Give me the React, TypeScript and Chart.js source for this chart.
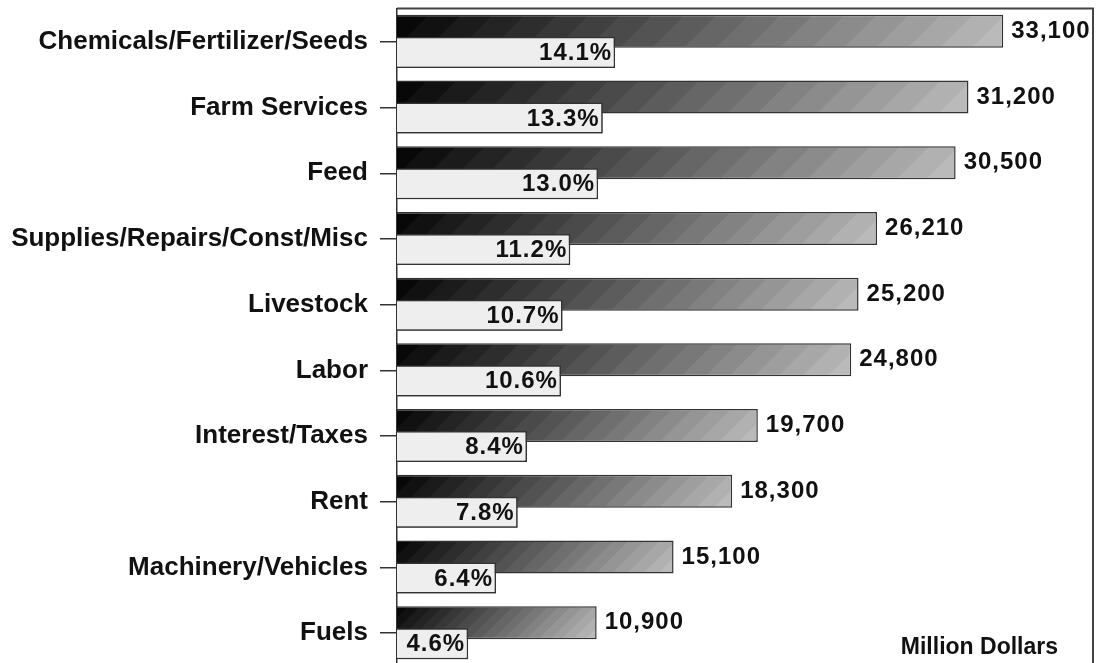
import React, { useEffect, useRef } from "react";
import { Chart, registerables } from "chart.js";

Chart.register(...registerables);

const categories = [
  "Chemicals/Fertilizer/Seeds",
  "Farm Services",
  "Feed",
  "Supplies/Repairs/Const/Misc",
  "Livestock",
  "Labor",
  "Interest/Taxes",
  "Rent",
  "Machinery/Vehicles",
  "Fuels",
];
const dollars = [33100, 31200, 30500, 26210, 25200, 24800, 19700, 18300, 15100, 10900];
const percents = [14.1, 13.3, 13.0, 11.2, 10.7, 10.6, 8.4, 7.8, 6.4, 4.6];
const unitLabel = "Million Dollars";

const FONT = '"Liberation Sans", Arial, sans-serif';

function stepGradient(ctx: CanvasRenderingContext2D, x0: number, y0: number, w: number, h: number) {
  const L = Math.max(1, w + h);
  const g = ctx.createLinearGradient(x0, y0, x0 + L / 2, y0 + L / 2);
  const N = 20;
  for (let i = 0; i < N; i++) {
    const t = i / (N - 1);
    const v = Math.round(8 + t * (186 - 8));
    const c = `rgb(${v},${v},${v})`;
    g.addColorStop(i / N, c);
    g.addColorStop(Math.min(1, (i + 1) / N - 0.0001), c);
  }
  return g;
}

const labelPlugin = {
  id: "customLabels",
  afterDatasetsDraw(chart: any) {
    const ctx: CanvasRenderingContext2D = chart.ctx;
    const area = chart.chartArea;
    const light = chart.getDatasetMeta(1);
    const dark = chart.getDatasetMeta(0);
    ctx.save();
    // draw light bars above dark bars
    light.data.forEach((el: any) => el.draw(ctx, area));
    ctx.fillStyle = "#111";
    ctx.font = `bold 24px ${FONT}`;
    (ctx as any).letterSpacing = "1px";
    ctx.textBaseline = "middle";
    dark.data.forEach((el: any, i: number) => {
      ctx.textAlign = "left";
      ctx.fillText(dollars[i].toLocaleString("en-US"), el.x + 8, el.y);
    });
    light.data.forEach((el: any, i: number) => {
      ctx.textAlign = "right";
      ctx.fillText(percents[i].toFixed(1) + "%", el.x - 3, el.y + 1);
    });
    (ctx as any).letterSpacing = "0px";
    ctx.font = `bold 23px ${FONT}`;
    ctx.textAlign = "right";
    ctx.textBaseline = "alphabetic";
    ctx.fillText(unitLabel, area.right - 35, 654);
    // frame
    ctx.strokeStyle = "#444";
    ctx.lineWidth = 2;
    ctx.beginPath();
    ctx.moveTo(area.left, area.top - 0.5);
    ctx.lineTo(area.right, area.top - 0.5);
    ctx.lineTo(area.right, area.bottom);
    ctx.stroke();
    ctx.restore();
  },
};

export default function App() {
  const ref = useRef<HTMLCanvasElement>(null);
  useEffect(() => {
    if (!ref.current) return;
    const chart = new Chart(ref.current, {
      type: "bar",
      data: {
        labels: categories,
        datasets: [
          {
            label: "Dollars",
            data: dollars,
            xAxisID: "x",
            borderColor: "#333",
            borderWidth: 1.5,
            barPercentage: 1.57,
            categoryPercentage: 0.64,
            backgroundColor: (c: any) => {
              const chart = c.chart;
              if (!chart.chartArea || c.type !== "data") return "#666";
              const xs = chart.scales.x;
              const ys = chart.scales.y;
              const x0 = xs.getPixelForValue(0);
              const x1 = xs.getPixelForValue(c.raw);
              const yc = ys.getPixelForValue(c.dataIndex) - 10.5;
              return stepGradient(chart.ctx, x0, yc - 16.5, x1 - x0, 33);
            },
          } as any,
          {
            label: "Percent",
            data: percents,
            xAxisID: "x2",
            backgroundColor: "#eeeeee",
            borderColor: "#333",
            borderWidth: 1.5,
            barPercentage: 1.476,
            categoryPercentage: 0.64,
          } as any,
        ],
      },
      options: {
        indexAxis: "y",
        responsive: false,
        animation: false,
        layout: { padding: { top: 9, right: 6, bottom: 0, left: 0 } },
        plugins: {
          legend: { display: false },
          tooltip: { enabled: false },
        },
        scales: {
          x: { type: "linear", min: 0, max: 38000, display: false },
          x2: { type: "linear", min: 0, max: 45, display: false },
          y: {
            type: "category",
            offset: true,
            grid: {
              display: true,
              drawOnChartArea: false,
              offset: false,
              tickLength: 17,
              color: "#333",
              lineWidth: 1.5,
            },
            border: { display: true, color: "#333", width: 1.5 },
            ticks: {
              padding: 12,
              color: "#111",
              font: { family: FONT, weight: "bold", size: 26 },
            },
            afterFit: (scale: any) => {
              scale.width = 397;
              scale.paddingTop = 0;
              scale.paddingBottom = 0;
            },
          } as any,
        },
      } as any,
      plugins: [labelPlugin],
    });
    return () => chart.destroy();
  }, []);
  return (
    <div
      style={{
        position: "fixed",
        left: 0,
        top: 0,
        width: 1099,
        height: 663,
        overflow: "hidden",
        background: "#fff",
      }}
    >
      <canvas ref={ref} width={1099} height={666} style={{ display: "block" }} />
    </div>
  );
}
